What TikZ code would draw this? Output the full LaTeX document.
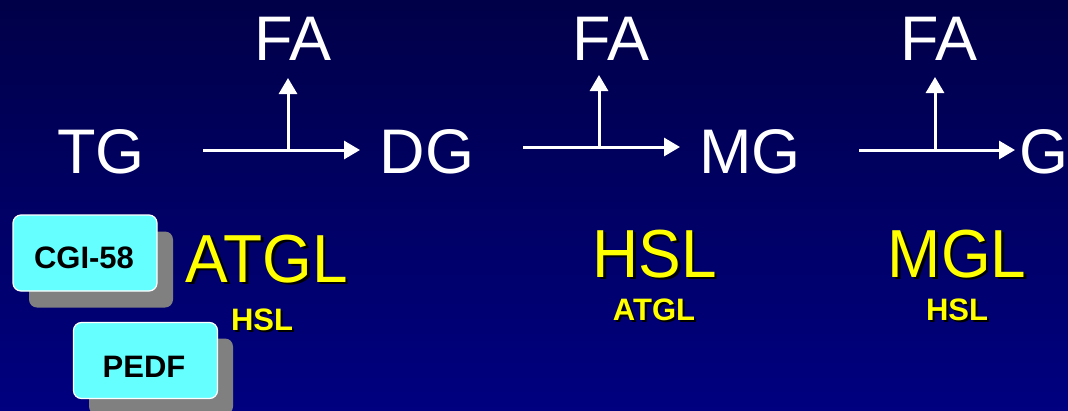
\documentclass[tikz,border=0pt]{standalone}
\usepackage{fontspec}
\setmainfont{Liberation Sans}
\usetikzlibrary{arrows.meta}
\definecolor{bgtop}{RGB}{0,0,72}
\definecolor{bgbot}{RGB}{0,0,128}
\definecolor{ylw}{RGB}{255,255,0}
\definecolor{cyanbox}{RGB}{102,255,255}
\definecolor{shadowgray}{RGB}{128,128,128}
% yellow text with a black drop shadow, in one node
\newcommand{\shadowed}[2]{\makebox[0pt][l]{\hspace*{#1}\raisebox{-#1}{\textcolor{black}{#2}}}#2}
\newcommand{\narrowtext}[1]{\scalebox{0.94}[1]{#1}}
\begin{document}
\begin{tikzpicture}[x=1pt,y=-1pt,
  chem/.style={text=white,font=\fontsize{63}{63}\selectfont,anchor=base,inner sep=0pt},
  enzbig/.style={text=ylw,font=\fontsize{68}{68}\selectfont,anchor=base,inner sep=0pt},
  enzsmall/.style={text=ylw,font=\bfseries\fontsize{31}{31}\selectfont,anchor=base,inner sep=0pt},
  arr/.style={draw=white,line width=3pt,-{Triangle[length=16pt,width=18pt]}},
  boxbase/.style={rounded corners=8pt,minimum width=144pt,minimum height=76pt,inner sep=0pt},
  regbox/.style={boxbase,fill=cyanbox,draw=white,line width=1.2pt},
  shadowbox/.style={boxbase,fill=shadowgray},
  boxtext/.style={text=black,font=\bfseries\fontsize{31}{31}\selectfont,anchor=base,inner sep=0pt}
]
\useasboundingbox (0,0) rectangle (1068,410);
\shade[top color=bgtop,bottom color=bgbot] (0,0) rectangle (1068,410);

% metabolites
\node[chem] (TG) at (101,173) {TG};
\node[chem] (DG) at (427,173) {DG};
\node[chem] (MG) at (750,173) {MG};
\node[chem] (G)  at (1044,173) {G};
\node[chem] (FA1) at (293,60) {FA};
\node[chem] (FA2) at (611,60) {FA};
\node[chem] (FA3) at (939,60) {FA};

% arrows
\coordinate (a1s) at (203,150);
\coordinate (a1e) at (360,150);
\coordinate (a1m) at (288,150);
\coordinate (a1t) at (288,78);
\coordinate (a2s) at (523,147);
\coordinate (a2e) at (680,147);
\coordinate (a2m) at (599,147);
\coordinate (a2t) at (599,75);
\coordinate (a3s) at (859,150);
\coordinate (a3e) at (1015,150);
\coordinate (a3m) at (935,150);
\coordinate (a3t) at (935,77);
\draw[arr] (a1s) -- (a1e);
\draw[arr] (a1m) -- (a1t);
\draw[arr] (a2s) -- (a2e);
\draw[arr] (a2m) -- (a2t);
\draw[arr] (a3s) -- (a3e);
\draw[arr] (a3m) -- (a3t);

% enzymes
\node[enzbig] (ATGL) at (267,282) {\narrowtext{\shadowed{2.5pt}{ATGL}}};
\node[enzsmall] (HSLa) at (262,330) {\shadowed{2pt}{HSL}};

\node[enzbig] (HSL) at (655,277) {\narrowtext{\shadowed{2.5pt}{HSL}}};
\node[enzsmall] (ATGLb) at (654,320) {\shadowed{2pt}{ATGL}};

\node[enzbig] (MGL) at (957,277) {\narrowtext{\shadowed{2.5pt}{MGL}}};
\node[enzsmall] (HSLc) at (957,320) {\shadowed{2pt}{HSL}};

% regulator boxes
\node[shadowbox] (cgish) at (101,269.5) {};
\node[regbox] (cgi) at (85,253) {};
\node[boxtext] (cgitext) at (84,268) {CGI-58};
\node[shadowbox] (pedfsh) at (161,376.5) {};
\node[regbox] (pedf) at (145.5,360.5) {};
\node[boxtext] (pedftext) at (144,377) {PEDF};
\end{tikzpicture}
\end{document}
